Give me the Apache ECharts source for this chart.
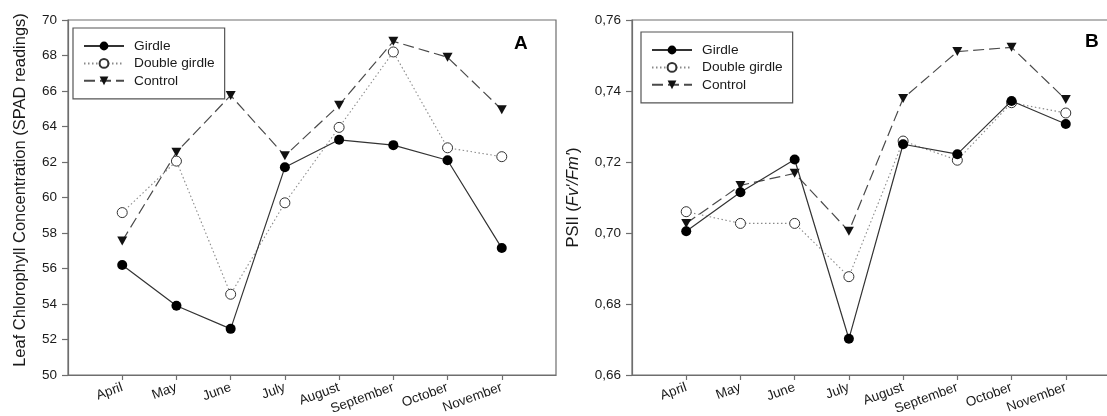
<!DOCTYPE html>
<html>
<head>
<meta charset="utf-8">
<script src="https://cdn.jsdelivr.net/npm/echarts@6/dist/echarts.min.js"></script>
<style>
html,body{margin:0;padding:0;background:#fff;}
#chart{width:1107px;height:416px;}
</style>
</head>
<body>
<div id="chart"></div>
<script>
const months = ['April','May','June','July','August','September','October','November'];
const seriesNames = ['Girdle','Double girdle','Control'];

// Panel A: Leaf Chlorophyll Concentration (SPAD readings)
const girdleA = [56.2, 53.9, 52.6, 61.7, 63.25, 62.95, 62.1, 57.15];
const doubleA = [59.15, 62.05, 54.55, 59.7, 63.95, 68.2, 62.8, 62.3];
const controlA = [57.55, 62.55, 65.75, 62.35, 65.2, 68.8, 67.9, 64.95];
const yTicksA = [50, 52, 54, 56, 58, 60, 62, 64, 66, 68, 70];

// Panel B: PSII (Fv'/Fm')
const girdleB = [0.7005, 0.7115, 0.7207, 0.6702, 0.7250, 0.7222, 0.7372, 0.7307];
const doubleB = [0.7060, 0.7027, 0.7027, 0.6877, 0.7259, 0.7205, 0.7367, 0.7338];
const controlB = [0.7027, 0.7134, 0.7168, 0.7005, 0.7379, 0.7511, 0.7523, 0.7376];
const yTicksB = [0.66, 0.68, 0.70, 0.72, 0.74, 0.76];

const titleA = 'Leaf Chlorophyll Concentration (SPAD readings)';

const pos = months.map((m, i) => i + 1);
const pair = arr => arr.map((v, i) => [pos[i], v]);

const FONT = 'Liberation Sans, Arial, sans-serif';
const AXIS_COLOR = '#6e6e6e';
const TEXT_COLOR = '#1a1a1a';
const TRI = 'path://M0,0 L10,0 L5,9 Z';

function xAxisCfg(gridIndex) {
  return {
    type: 'value', gridIndex, min: 0, max: 9, interval: 1,
    axisLine: { show: true, lineStyle: { color: AXIS_COLOR, width: 1.2 } },
    axisTick: { show: true, length: 5, customValues: pos, lineStyle: { color: AXIS_COLOR, width: 1.2 } },
    axisLabel: {
      customValues: pos, rotate: 20, margin: 12,
      formatter: v => months[v - 1] || '',
      fontFamily: FONT, fontSize: 13.5, color: TEXT_COLOR
    },
    splitLine: { show: false }
  };
}

function yAxisCfg(gridIndex, ticks, fmt, name, nameGap, rich) {
  return {
    type: 'value', gridIndex,
    min: ticks[0], max: ticks[ticks.length - 1], interval: ticks[1] - ticks[0],
    axisLine: { show: true, lineStyle: { color: AXIS_COLOR, width: 1.2 } },
    axisTick: { show: true, length: 6, lineStyle: { color: AXIS_COLOR, width: 1.2 } },
    axisLabel: { formatter: fmt, margin: 11, fontFamily: FONT, fontSize: 13.5, color: TEXT_COLOR },
    splitLine: { show: false },
    name: name, nameLocation: 'middle', nameGap: nameGap,
    nameTextStyle: { fontFamily: FONT, fontSize: 16.5, color: TEXT_COLOR, rich: rich }
  };
}

function makeSeries(idx, g, d, c) {
  return [
    {
      name: 'Control', type: 'line', xAxisIndex: idx, yAxisIndex: idx,
      data: pair(c), symbol: TRI, symbolSize: [10, 9],
      lineStyle: { color: '#4a4a4a', width: 1.2, type: [11, 5] },
      itemStyle: { color: '#111' }, z: 2
    },
    {
      name: 'Double girdle', type: 'line', xAxisIndex: idx, yAxisIndex: idx,
      data: pair(d), symbol: 'circle', symbolSize: 10,
      lineStyle: { color: '#8a8a8a', width: 1.1, type: [1.5, 2.5] },
      itemStyle: { color: '#ffffff', borderColor: '#333', borderWidth: 1 }, z: 3
    },
    {
      name: 'Girdle', type: 'line', xAxisIndex: idx, yAxisIndex: idx,
      data: pair(g), symbol: 'circle', symbolSize: 10,
      lineStyle: { color: '#333', width: 1.2, type: 'solid' },
      itemStyle: { color: '#000' }, z: 4
    }
  ];
}

function legendCfg(left, top) {
  return {
    data: seriesNames, orient: 'vertical', left: left, top: top,
    itemWidth: 40, itemHeight: 11, itemGap: 3.4,
    padding: [11, 10, 11, 10],
    borderColor: '#555', borderWidth: 1.2, borderRadius: 0,
    textStyle: { fontFamily: FONT, fontSize: 13.7, color: TEXT_COLOR, padding: [0, 0, 0, 5] },
    selectedMode: false
  };
}

const chart = echarts.init(document.getElementById('chart'), null, { renderer: 'canvas' });
chart.setOption({
  animation: false,
  backgroundColor: '#fff',
  grid: [
    { left: 68, top: 20, width: 488, height: 355, show: true, borderColor: AXIS_COLOR, borderWidth: 1.2,
      containLabel: false, outerBoundsMode: 'none' },
    { left: 632, top: 20, width: 488, height: 355, show: true, borderColor: AXIS_COLOR, borderWidth: 1.2,
      containLabel: false, outerBoundsMode: 'none' }
  ],
  xAxis: [xAxisCfg(0), xAxisCfg(1)],
  yAxis: [
    yAxisCfg(0, yTicksA, v => String(Math.round(v)), '', 40, {}),
    yAxisCfg(1, yTicksB, v => v.toFixed(2).replace('.', ','), "PSII ({i|Fv'/Fm'})", 50,
      { i: { fontStyle: 'italic', fontFamily: FONT, fontSize: 16.5, color: TEXT_COLOR } })
  ],
  legend: [legendCfg(73, 28), legendCfg(641, 32)],
  graphic: [
    { type: 'text', x: 20, y: 190, rotation: Math.PI / 2,
      style: { text: titleA, fontFamily: FONT, fontSize: 16.5, fill: TEXT_COLOR, align: 'center', verticalAlign: 'middle' } },
    { type: 'text', left: 514, top: 34, style: { text: 'A', fontFamily: FONT, fontSize: 19, fontWeight: 'bold', fill: '#000' } },
    { type: 'text', left: 1085, top: 32, style: { text: 'B', fontFamily: FONT, fontSize: 19, fontWeight: 'bold', fill: '#000' } }
  ],
  series: [].concat(makeSeries(0, girdleA, doubleA, controlA), makeSeries(1, girdleB, doubleB, controlB))
});
</script>
</body>
</html>
